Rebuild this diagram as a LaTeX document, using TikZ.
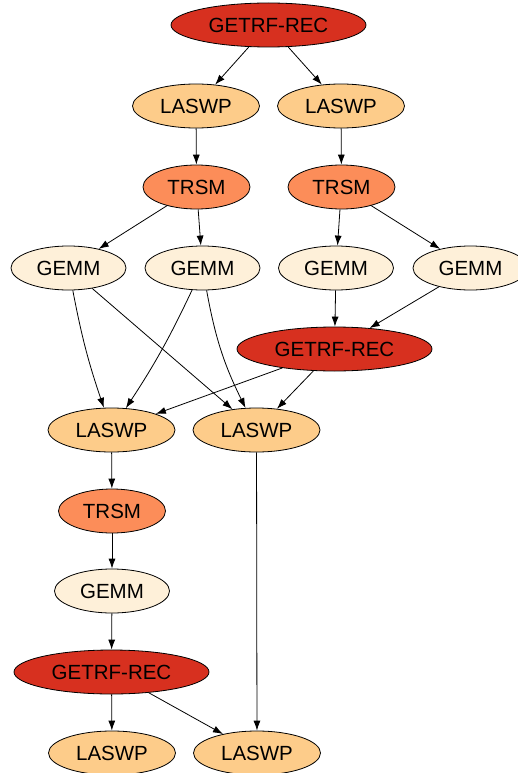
\documentclass[tikz,border=0pt]{standalone}
\usepackage{fontspec}
\setmainfont{Liberation Sans}
\usetikzlibrary{shapes.geometric,arrows.meta}
\definecolor{cGETRF}{HTML}{D7301F}
\definecolor{cTRSM}{HTML}{FC8D59}
\definecolor{cLASWP}{HTML}{FDCC8A}
\definecolor{cGEMM}{HTML}{FEF0D9}
\tikzset{
  base/.style={ellipse, draw=black, line width=0.8pt, inner sep=0pt, minimum height=44pt,
    font=\fontsize{20.5}{24}\selectfont},
  getrf/.style={base, fill=cGETRF, minimum width=195pt},
  trsm/.style={base, fill=cTRSM, minimum width=107pt},
  laswp/.style={base, fill=cLASWP, minimum width=127pt},
  gemm/.style={base, fill=cGEMM, minimum width=115pt},
  edge/.style={draw=black, line width=0.8pt, -{Latex[length=10pt,width=7pt]}}
}
\begin{document}
\begin{tikzpicture}[x=1pt,y=-1pt]
\useasboundingbox (0,0) rectangle (518,773);
\node[getrf] (g1) at (268.5,25) {GETRF-REC};
\node[laswp] (l1) at (196,106) {LASWP};
\node[laswp] (l2) at (341,106) {LASWP};
\node[trsm] (t1) at (196.5,187) {TRSM};
\node[trsm] (t2) at (341.5,187) {TRSM};
\node[gemm] (m1) at (68.5,268) {GEMM};
\node[gemm] (m2) at (202.5,268) {GEMM};
\node[gemm] (m3) at (336,268) {GEMM};
\node[gemm] (m4) at (470.5,268) {GEMM};
\node[getrf] (g2) at (334.5,349) {GETRF-REC};
\node[laswp] (l3) at (111.5,430) {LASWP};
\node[laswp] (l4) at (256.5,430) {LASWP};
\node[trsm] (t3) at (112,511) {TRSM};
\node[gemm] (m5) at (112,591) {GEMM};
\node[getrf] (g3) at (111.5,672) {GETRF-REC};
\node[laswp] (l5) at (112,753) {LASWP};
\node[laswp] (l6) at (257,753) {LASWP};
\draw[edge] (g1) -- (l1);
\draw[edge] (g1) -- (l2);
\draw[edge] (l1) -- (t1);
\draw[edge] (l2) -- (t2);
\draw[edge] (t1) -- (m1);
\draw[edge] (t1) -- (m2);
\draw[edge] (t2) -- (m3);
\draw[edge] (t2) -- (m4);
\draw[edge] (m3) -- (g2);
\draw[edge] (m4) -- (g2);
\draw[edge] (g2) -- (l3);
\draw[edge] (g2) -- (l4);
\draw[edge] (m1) to[bend right=4] (l3);
\draw[edge] (m1) -- (l4);
\draw[edge] (m2) to[bend left=4] (l3);
\draw[edge] (m2) to[bend right=8] (l4);
\draw[edge] (l3) -- (t3);
\draw[edge] (t3) -- (m5);
\draw[edge] (m5) -- (g3);
\draw[edge] (g3) -- (l5);
\draw[edge] (g3) -- (l6);
\draw[edge] (l4) -- (l6);
\end{tikzpicture}
\end{document}
